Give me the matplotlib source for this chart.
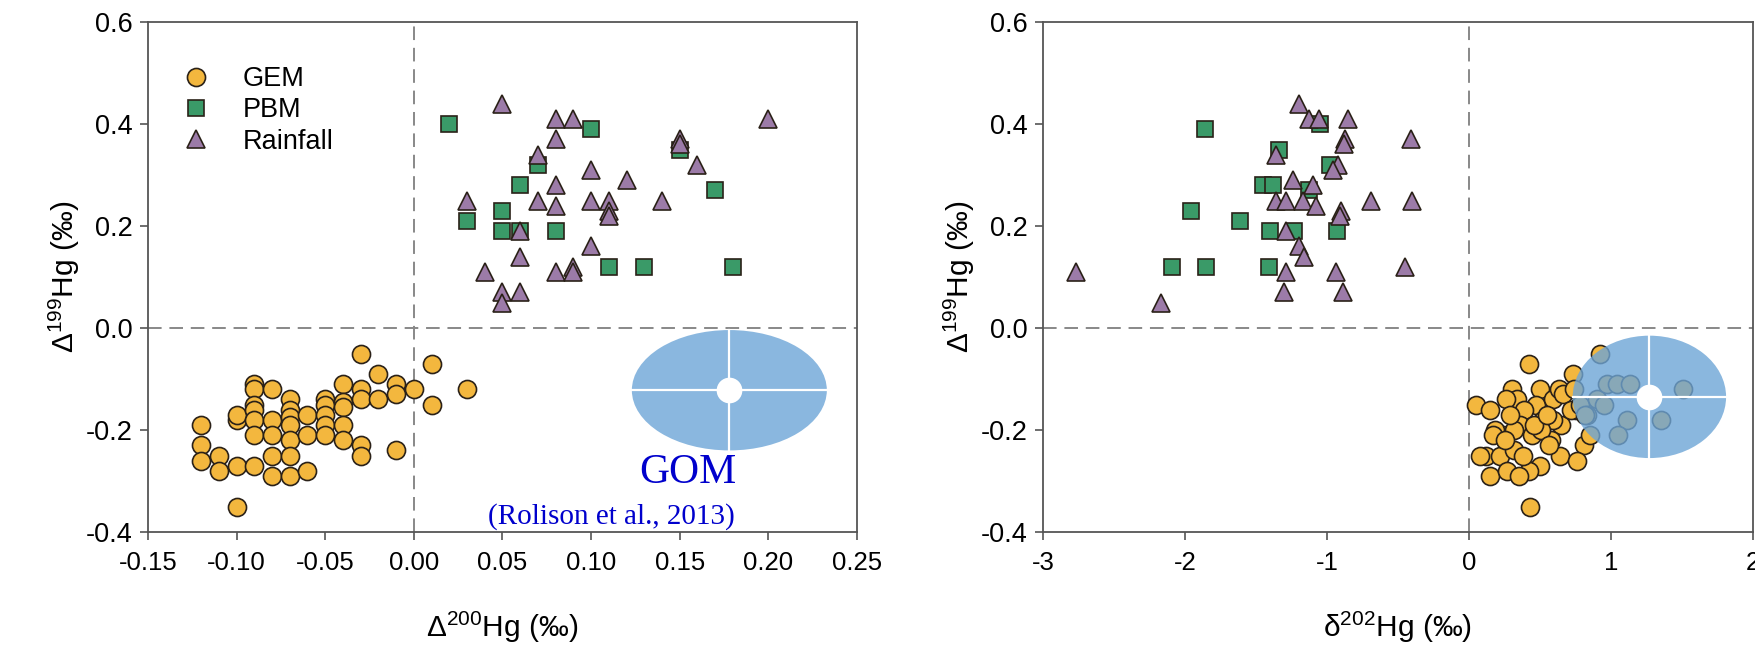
import numpy as np
import matplotlib
matplotlib.use('Agg')
import matplotlib.pyplot as plt
from matplotlib.patches import Ellipse

plt.rcParams['font.family'] = ['Liberation Sans', 'DejaVu Sans']
plt.rcParams['mathtext.fontset'] = 'custom'
plt.rcParams['mathtext.rm'] = 'Liberation Sans'
plt.rcParams['axes.unicode_minus'] = False

# ---- left panel: D200Hg vs D199Hg ----
gem_d200 = [-0.12, -0.12, -0.12, -0.11, -0.11, -0.10, -0.10, -0.10, -0.10,
            -0.09, -0.09, -0.09, -0.09, -0.09, -0.09, -0.09,
            -0.08, -0.08, -0.08, -0.08, -0.08,
            -0.07, -0.07, -0.07, -0.07, -0.07, -0.07, -0.07,
            -0.06, -0.06, -0.06, -0.05, -0.05, -0.05, -0.05, -0.05,
            -0.04, -0.04, -0.04, -0.04, -0.04, -0.03, -0.03, -0.03, -0.03, -0.03,
            -0.02, -0.02, -0.01, -0.01, -0.01, 0.00, 0.01, 0.01, 0.03]
gem_d199_l = [-0.19, -0.23, -0.26, -0.25, -0.28, -0.27, -0.18, -0.17, -0.35,
              -0.11, -0.12, -0.15, -0.16, -0.18, -0.21, -0.27,
              -0.12, -0.18, -0.21, -0.25, -0.29,
              -0.14, -0.16, -0.175, -0.19, -0.22, -0.25, -0.29,
              -0.17, -0.21, -0.28, -0.14, -0.15, -0.17, -0.19, -0.21,
              -0.11, -0.145, -0.155, -0.19, -0.22, -0.05, -0.12, -0.14, -0.23, -0.25,
              -0.09, -0.14, -0.11, -0.13, -0.24, -0.12, -0.07, -0.15, -0.12]

pbm_d200 = [0.02, 0.10, 0.15, 0.07, 0.06, 0.17, 0.05, 0.03, 0.05, 0.06, 0.08, 0.11, 0.13, 0.18]
pbm_d199_l = [0.40, 0.39, 0.35, 0.32, 0.28, 0.27, 0.23, 0.21, 0.19, 0.19, 0.19, 0.12, 0.12, 0.12]

rain_d200 = [0.05, 0.08, 0.09, 0.20, 0.08, 0.15, 0.15, 0.07, 0.16, 0.10, 0.12, 0.08,
             0.03, 0.07, 0.10, 0.11, 0.14, 0.08, 0.11, 0.11, 0.06, 0.10, 0.06, 0.04,
             0.08, 0.09, 0.09, 0.05, 0.06, 0.05]
rain_d199_l = [0.44, 0.41, 0.41, 0.41, 0.37, 0.37, 0.36, 0.34, 0.32, 0.31, 0.29, 0.28,
               0.25, 0.25, 0.25, 0.25, 0.25, 0.24, 0.23, 0.22, 0.19, 0.16, 0.14, 0.11,
               0.11, 0.12, 0.11, 0.07, 0.07, 0.05]

# ---- right panel: d202Hg vs D199Hg ----
gem_d202 = [0.42, 0.92, 0.73, 0.05, 0.15, 0.30, 0.34, 0.26, 0.50, 0.47,
            0.59, 0.63, 0.66, 0.74, 0.75, 0.39, 0.52, 0.36, 0.65, 0.59,
            0.72, 0.44, 0.24, 0.18, 0.32, 0.58, 0.51, 0.12, 0.22, 0.32,
            0.81, 0.64, 0.76, 0.50, 0.15, 0.27, 0.42, 0.38, 0.43, 0.35,
            0.08, 0.17, 0.25, 0.46, 0.55, 0.78, 0.83, 0.85, 0.90, 0.95,
            0.97, 1.04, 1.13, 1.51, 1.11, 1.35, 1.05, 0.82, 0.29, 0.56]
gem_d199_r = [-0.07, -0.05, -0.09, -0.15, -0.16, -0.12, -0.14, -0.14, -0.12, -0.15,
              -0.14, -0.12, -0.13, -0.12, -0.16, -0.16, -0.18, -0.19, -0.19, -0.18,
              -0.16, -0.21, -0.21, -0.20, -0.20, -0.22, -0.20, -0.25, -0.25, -0.24,
              -0.23, -0.25, -0.26, -0.27, -0.29, -0.28, -0.28, -0.25, -0.35, -0.29,
              -0.25, -0.21, -0.22, -0.19, -0.17, -0.15, -0.17, -0.21, -0.14, -0.15,
              -0.11, -0.11, -0.11, -0.12, -0.18, -0.18, -0.21, -0.17, -0.17, -0.23]

pbm_d202 = [-1.86, -1.05, -1.34, -0.98, -1.45, -1.38, -1.13, -1.96, -1.61, -1.40,
            -1.23, -0.93, -2.09, -1.85, -1.41]
pbm_d199_r = [0.39, 0.40, 0.35, 0.32, 0.28, 0.28, 0.27, 0.23, 0.21, 0.19,
              0.19, 0.19, 0.12, 0.12, 0.12]

rain_d202 = [-2.77, -2.17, -1.20, -1.13, -1.06, -0.85, -0.87, -0.88, -1.36, -0.92,
             -0.96, -1.24, -1.10, -1.36, -1.29, -1.17, -1.08, -0.90, -0.91, -0.69,
             -0.40, -0.41, -1.29, -1.20, -1.16, -1.29, -0.94, -0.45, -1.30, -0.89]
rain_d199_r = [0.11, 0.05, 0.44, 0.41, 0.41, 0.41, 0.37, 0.36, 0.34, 0.32,
               0.31, 0.29, 0.28, 0.25, 0.25, 0.25, 0.24, 0.23, 0.22, 0.25,
               0.25, 0.37, 0.19, 0.16, 0.14, 0.11, 0.11, 0.12, 0.07, 0.07]

# GOM field (Rolison et al., 2013): centre x, centre y, half-width, half-height
gom_left = [0.178, -0.122, 0.055, 0.118]
gom_right = [1.27, -0.135, 0.54, 0.12]

gem_color = '#F3B73E'
pbm_color = '#3A9A68'
rain_color = '#9C7BA8'
gom_color = '#8AB7DF'
edge = '#2a2118'

fig = plt.figure(figsize=(17.55, 6.48), dpi=100)
ax1 = fig.add_axes([0.0843, 0.179, 0.404, 0.787])
ax2 = fig.add_axes([0.5943, 0.179, 0.4046, 0.787])


def draw_points(ax, gx, gy, px, py, rx, ry):
    ax.plot(gx, gy, 'o', ms=13, mfc=gem_color, mec=edge, mew=1.2, ls='none', zorder=3, label='GEM')
    ax.plot(px, py, 's', ms=12, mfc=pbm_color, mec=edge, mew=1.2, ls='none', zorder=3, label='PBM')
    ax.plot(rx, ry, '^', ms=13, mfc=rain_color, mec=edge, mew=1.2, ls='none', zorder=3, label='Rainfall')


def draw_gom(ax, g, alpha):
    cx, cy, hx, hy = g
    fc = gom_color if alpha == 1 else '#6DA5D6'
    ax.add_patch(Ellipse((cx, cy), 2 * hx, 2 * hy, facecolor=fc,
                         edgecolor='none', alpha=alpha, zorder=4))
    ax.plot([cx - hx, cx + hx], [cy, cy], color='white', lw=1.6, zorder=5)
    ax.plot([cx, cx], [cy - hy, cy + hy], color='white', lw=1.6, zorder=5)
    ax.plot([cx], [cy], 'o', ms=18.5, mfc='white', mec='none', zorder=6)


def style(ax, xlim, xticks, xfmt, xlabel):
    yticks = [-0.4, -0.2, 0.0, 0.2, 0.4, 0.6]
    ax.set_xlim(*xlim)
    ax.set_ylim(-0.4, 0.6)
    ax.set_xticks(xticks)
    ax.set_xticklabels([xfmt.format(v) for v in xticks])
    ax.set_yticks(yticks)
    ax.set_yticklabels(['{:.1f}'.format(v) for v in yticks])
    ax.axhline(0, color='#888888', lw=1.4, ls=(0, (7, 4)), zorder=1)
    ax.axvline(0, color='#888888', lw=1.4, ls=(0, (7, 4)), zorder=1)
    for s in ax.spines.values():
        s.set_color('#555555')
        s.set_linewidth(1.3)
    ax.tick_params(direction='out', length=6, width=1.2, color='#555555',
                   top=False, right=False)
    ax.tick_params(axis='x', labelsize=18.5, pad=8)
    ax.tick_params(axis='y', labelsize=19.5, pad=5)
    ax.set_xlabel(xlabel, fontsize=21.5, labelpad=24)
    ax.set_ylabel('Δ$^{199}$Hg (‰)', fontsize=21.5, labelpad=3)


draw_points(ax1, gem_d200, gem_d199_l, pbm_d200, pbm_d199_l, rain_d200, rain_d199_l)
draw_gom(ax1, gom_left, 1)
style(ax1, (-0.15, 0.25), [-0.15, -0.10, -0.05, 0.00, 0.05, 0.10, 0.15, 0.20, 0.25], '{:.2f}', 'Δ$^{200}$Hg (‰)')
h, l = ax1.get_legend_handles_labels()
ax1.legend(h[:3], l[:3], loc='upper left', bbox_to_anchor=(0.015, 0.935), frameon=False,
           fontsize=19.5, labelspacing=0.2, handletextpad=0.7, borderaxespad=0)
ax1.text(0.762, 0.116, 'GOM', transform=ax1.transAxes, ha='center', va='center',
         fontsize=30, color='#0000CC', family='Liberation Serif')
ax1.text(0.654, 0.03, '(Rolison et al., 2013)', transform=ax1.transAxes, ha='center', va='center',
         fontsize=21, color='#0000CC', family='Liberation Serif')

draw_points(ax2, gem_d202, gem_d199_r, pbm_d202, pbm_d199_r, rain_d202, rain_d199_r)
draw_gom(ax2, gom_right, 0.8)
style(ax2, (-3, 2), [-3, -2, -1, 0, 1, 2], '{:d}', 'δ$^{202}$Hg (‰)')

fig.savefig('out.png', dpi=100)
